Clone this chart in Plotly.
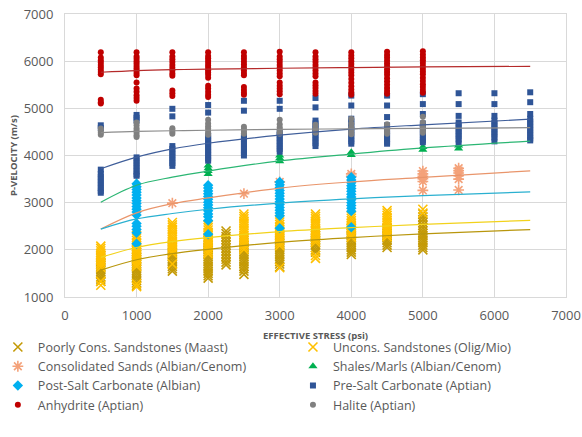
import plotly.graph_objects as go

# ---------------- scatter data: {effective stress (psi): [P-velocity (m/s), ...]} ----------------
maast_cols = {
    500: [1880, 1830, 1780, 1730, 1680, 1630, 1580, 1530, 1480, 1430, 1380, 1330],
    1000: [2000, 1950, 1900, 1850, 1800, 1750, 1700, 1650, 1600, 1550, 1500, 1450, 1400, 1350, 1300, 1250],
    1500: [2100, 2050, 2000, 1950, 1900, 1850, 1800, 1750, 1700, 1650, 1600, 1550],
    2000: [2200, 2150, 2100, 2050, 2000, 1950, 1900, 1850, 1800, 1750, 1700, 1650, 1600, 1550, 1500, 1450, 1400],
    2250: [2400, 2340, 2280, 2220, 2160, 2100, 2040, 1980, 1920, 1860, 1800, 1740, 1680],
    2500: [2250, 2200, 2150, 2100, 2050, 2000, 1950, 1900, 1850, 1800, 1750, 1700, 1650, 1600, 1550, 1480],
    3000: [2300, 2250, 2200, 2150, 2100, 2050, 2000, 1950, 1900, 1850, 1800, 1750, 1700, 1640],
    3500: [2400, 2350, 2300, 2250, 2200, 2150, 2100, 2050, 2000, 1950],
    4000: [2450, 2400, 2350, 2300, 2250, 2200, 2150, 2100, 2050, 2000, 1950, 1900],
    4500: [2450, 2400, 2350, 2300, 2250, 2200, 2150, 2100, 2050],
    5000: [2760, 2700, 2640, 2580, 2520, 2460, 2400, 2350, 2300, 2250, 2200, 2150, 2100, 2050, 2000],
}
uncons_cols = {
    500: [2080, 2030, 1980, 1930, 1880, 1830, 1780, 1730, 1680, 1630, 1330, 1250],
    1000: [2300, 2250, 2200, 2150, 2100, 2050, 2000, 1950, 1900, 1850, 1800, 1750, 1700, 1650, 1280, 1220],
    1500: [2580, 2530, 2480, 2430, 2380, 2330, 2280, 2230, 2180, 2130, 2080, 2030, 1980, 1930, 1700],
    2000: [2520, 2470, 2420, 2370, 2320, 2270, 2220, 2170, 2120, 2070, 2020, 1970, 1920],
    2500: [2760, 2710, 2660, 2610, 2560, 2510, 2460, 2410, 2360, 2310, 2260, 2210, 2160, 2110, 2060, 2010],
    3000: [2640, 2590, 2540, 2490, 2440, 2390, 2340, 2290, 2240, 2190, 2140, 2090, 1620],
    3500: [2760, 2710, 2660, 2610, 2560, 2510, 2460, 2410, 2360, 2310, 2260, 2210, 2160, 1880, 1820],
    4000: [2720, 2670, 2620, 2570, 2520, 2470, 2420, 2370, 2320, 2270],
    4500: [2830, 2780, 2730, 2680, 2630, 2580, 2530, 2480, 2430, 2380, 2330, 2280],
    5000: [2860, 2780],
}
consol_cols = {
    1500: [2990],
    2500: [3190],
    3000: [3440],
    4000: [3610, 3560],
    5000: [3670, 3610, 3560, 3510, 3450, 3260],
    5500: [3730, 3680, 3630, 3570, 3500, 3270],
}
shales_cols = {
    1000: [3430, 3370, 3310, 3250],
    2000: [3790, 3730, 3670, 3610],
    3000: [4000, 3940, 3880],
    4000: [4070, 4010],
    5000: [4180, 4120],
    5500: [4210, 4150],
}
postsalt_cols = {
    1000: [3400, 3340, 3280, 3220, 3160, 3100, 3040, 2980, 2920, 2860, 2800, 2740, 2560, 2500, 2430, 2360, 2130],
    2000: [3370, 3310, 3250, 3190, 3130, 3070, 3010, 2950, 2890, 2830, 2760, 2700, 2620, 2330],
    3000: [3440, 3380, 3320, 3260, 3200, 3140, 3080, 3020, 2960, 2900, 2840, 2780, 2720, 2460],
    4000: [3540, 3480, 3420, 3360, 3300, 3240, 3180, 3120, 3060, 3000, 2940, 2880, 2820, 2480],
}
presalt_cols = {
    500: [4640, 4580, 3700, 3610, 3550, 3490, 3430, 3370, 3310, 3250, 3210],
    1000: [4860, 4800, 4740, 3960, 3900, 3840, 3780, 3720, 3660, 3600, 3570],
    1500: [4990, 4830, 4200, 4140, 4080, 4020, 3960, 3900, 3840, 3780],
    2000: [5070, 4910, 4420, 4360, 4300, 4240, 4180, 4120, 4060, 4000, 3940, 3890],
    2500: [5160, 4950, 4420, 4360, 4300, 4240, 4180, 4120, 4060, 4000],
    3000: [5160, 4990, 4500, 4440, 4380, 4320, 4260, 4200, 4140, 4080],
    3500: [5220, 5020, 4740, 4680, 4620, 4560, 4500, 4440, 4380, 4320, 4260, 4200],
    4000: [5270, 5060, 4780, 4720, 4660, 4600, 4540, 4480, 4420, 4360, 4300, 4250],
    4500: [5270, 5060, 4815, 4640, 4530, 4470, 4410, 4350, 4290, 4250],
    5000: [5300, 5090, 4880, 4680, 4620, 4560, 4500, 4440, 4380, 4320, 4280],
    5500: [5320, 5090, 4840, 4700, 4640, 4580, 4520, 4460, 4400, 4340, 4260],
    6000: [5320, 5090, 4840, 4740, 4680, 4620, 4560, 4500, 4440, 4380, 4300],
    6500: [5340, 5130, 4880, 4780, 4720, 4660, 4600, 4540, 4480, 4420, 4360, 4320],
}
anhydrite_cols = {
    500: [6190, 6080, 6020, 5970, 5920, 5870, 5820, 5770, 5720, 5180, 5130, 5100],
    1000: [6190, 6100, 6050, 6000, 5950, 5900, 5850, 5800, 5750, 5700, 5550, 5420, 5350, 5280, 5220, 5160],
    1500: [6190, 6100, 6040, 5980, 5920, 5860, 5800, 5740, 5690, 5380, 5320, 5260],
    2000: [6190, 6110, 6060, 6010, 5960, 5910, 5860, 5810, 5760, 5710, 5650, 5480, 5420, 5350, 5290, 5240],
    2500: [6190, 6110, 6050, 5990, 5930, 5870, 5810, 5750, 5700, 5450, 5390, 5330, 5290],
    3000: [6200, 6100, 6040, 5980, 5920, 5860, 5800, 5740, 5680, 5550, 5480, 5420, 5360, 5300],
    3500: [6190, 6100, 6040, 5980, 5920, 5860, 5800, 5740, 5680, 5550, 5490, 5430, 5370, 5310],
    4000: [6190, 6120, 6060, 6000, 5940, 5880, 5820, 5760, 5700, 5620, 5540, 5470, 5400, 5340, 5290],
    4500: [6200, 6130, 6070, 6010, 5950, 5890, 5830, 5770, 5710, 5640, 5570, 5500, 5430, 5370, 5310],
    5000: [6210, 6140, 6080, 6020, 5960, 5900, 5840, 5780, 5720, 5650, 5580, 5510, 5450, 5390, 5330],
}
halite_cols = {
    500: [4570, 4520, 4480, 4440],
    1000: [4700, 4640, 4580, 4530, 4480, 4430, 4390],
    1500: [4580, 4540, 4500, 4460],
    2000: [4760, 4680, 4620, 4570, 4520, 4470, 4440],
    2500: [4610, 4560, 4510, 4460],
    3000: [4760, 4660, 4600, 4550, 4500, 4460],
    3500: [4650, 4580, 4530, 4480],
    4000: [4780, 4680, 4600, 4540, 4490, 4450],
    4500: [4660, 4600, 4550, 4500, 4460],
    5000: [4820, 4700, 4620, 4570, 4520, 4480],
}

# ---------------- trend lines ----------------
trend_stress = [500, 1000, 1500, 2000, 3000, 4000, 5000, 6500]
maast_trend = [1570, 1790, 1920, 2010, 2160, 2260, 2340, 2430]
uncons_trend = [1840, 2050, 2175, 2260, 2385, 2470, 2540, 2625]
consol_trend = [2440, 2785, 2978, 3100, 3310, 3440, 3535, 3675]
shales_trend = [3010, 3370, 3540, 3670, 3885, 4030, 4160, 4305]
postsalt_trend = [2440, 2655, 2770, 2860, 2990, 3080, 3150, 3230]
presalt_trend = [3720, 3965, 4140, 4260, 4430, 4560, 4650, 4770]
anhydrite_trend = [5765, 5800, 5820, 5830, 5850, 5865, 5878, 5890]
halite_trend = [4485, 4510, 4525, 4535, 4555, 4565, 4575, 4590]

series_names = [
    "Poorly Cons. Sandstones (Maast)",
    "Uncons. Sandstones (Olig/Mio)",
    "Consolidated Sands (Albian/Cenom)",
    "Shales/Marls (Albian/Cenom)",
    "Post-Salt Carbonate (Albian)",
    "Pre-Salt Carbonate (Aptian)",
    "Anhydrite (Aptian)",
    "Halite (Aptian)",
]

def flatten(cols):
    xs, ys = [], []
    for k, vals in cols.items():
        for v in vals:
            xs.append(k)
            ys.append(v)
    return xs, ys

fig = go.Figure()

styles = [
    (maast_cols, dict(symbol="x-thin", size=9, color="#C49A06", line=dict(width=1.6, color="#C49A06"))),
    (uncons_cols, dict(symbol="x-thin", size=9, color="#FFC000", line=dict(width=1.6, color="#FFC000"))),
    (consol_cols, dict(symbol="asterisk", size=9, color="#F4A27A", line=dict(width=1.6, color="#F4A27A"))),
    (shales_cols, dict(symbol="triangle-up", size=8, color="#00B050")),
    (postsalt_cols, dict(symbol="diamond", size=8, color="#00B0F0")),
    (presalt_cols, dict(symbol="square", size=6, color="#2F5597")),
    (anhydrite_cols, dict(symbol="circle", size=6, color="#C00000")),
    (halite_cols, dict(symbol="circle", size=6, color="#808080")),
]

for i, (name, (cols, mk)) in enumerate(zip(series_names, styles)):
    xs, ys = flatten(cols)
    fig.add_trace(go.Scatter(x=xs, y=ys, mode="markers", name=name, marker=mk,
                             legend="legend" if i % 2 == 0 else "legend2"))

trends = [
    (maast_trend, "#B8960C"),
    (uncons_trend, "#F2D21B"),
    (consol_trend, "#E9956B"),
    (shales_trend, "#2BB673"),
    (postsalt_trend, "#2AB0D0"),
    (presalt_trend, "#3F5E9A"),
    (anhydrite_trend, "#B52A2A"),
    (halite_trend, "#8C8C8C"),
]
for vals, col in trends:
    fig.add_trace(go.Scatter(x=trend_stress, y=vals, mode="lines", showlegend=False,
                             hoverinfo="skip", line=dict(color=col, width=1.2, shape="spline")))

axis_common = dict(
    showgrid=True, gridcolor="#D9D9D9", gridwidth=1,
    showline=True, linecolor="#D9D9D9", mirror=True,
    zeroline=False, ticks="outside", tickcolor="rgba(0,0,0,0)",
    tickfont=dict(family="Open Sans", size=13, color="#595959"),
)

legend_common = dict(orientation="v", xref="paper", yref="paper",
                     xanchor="left", yanchor="top", bgcolor="rgba(0,0,0,0)",
                     font=dict(family="Open Sans", size=12.5, color="#595959"),
                     itemwidth=30, traceorder="normal", tracegroupgap=0)

fig.update_layout(
    width=582, height=437,
    margin=dict(l=65, r=16, t=14, b=140, autoexpand=False),
    paper_bgcolor="white", plot_bgcolor="white",
    font=dict(family="Open Sans", color="#595959"),
    xaxis=dict(range=[0, 7000], dtick=1000, tick0=0, ticklen=6,
               title=dict(text="<b>EFFECTIVE STRESS (psi)</b>", font=dict(size=9.5, color="#595959"), standoff=9),
               **axis_common),
    yaxis=dict(range=[1000, 7000], dtick=1000, tick0=1000, ticklen=8,
               title=dict(text="<b>P-VELOCITY (m/s)</b>", font=dict(size=9.5, color="#595959"), standoff=4),
               **axis_common),
    legend=dict(x=-0.134, y=-0.125, **legend_common),
    legend2=dict(x=0.455, y=-0.125, **legend_common),
    showlegend=True,
)

fig.write_html("out.html", config={"displayModeBar": False},
               post_script="document.body.style.margin='0';")
